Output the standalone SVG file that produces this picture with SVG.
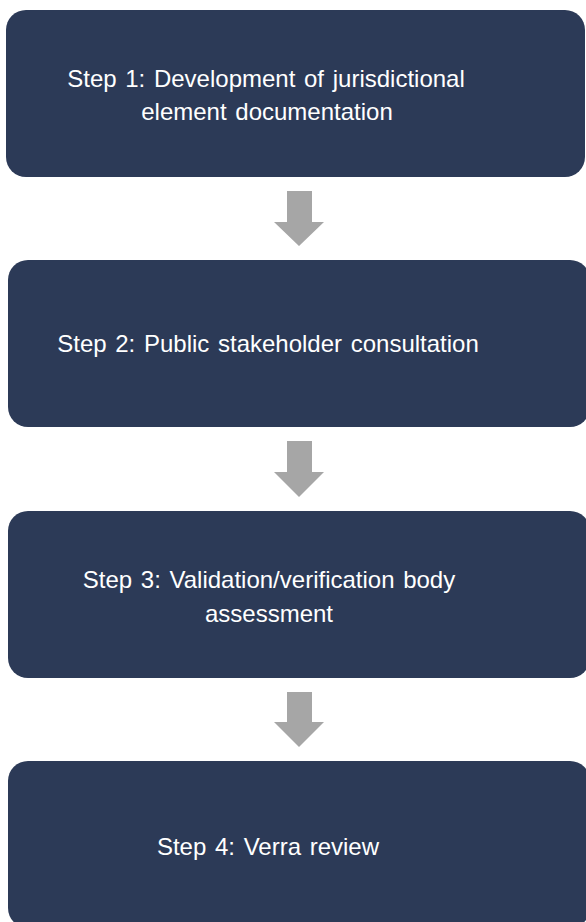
<svg xmlns="http://www.w3.org/2000/svg" width="586" height="922" viewBox="0 0 586 922">
  <style>
    .box { fill: #2C3A57; }
    .lbl { fill: #FFFFFF; font-family: "Liberation Sans", Arial, sans-serif; font-size: 24px; word-spacing: 2px; text-anchor: middle; }
    .arr { fill: #A6A6A6; }
  </style>
  <rect x="0" y="0" width="586" height="922" fill="#FFFFFF"/>
  <g id="connectors">
    <polygon class="arr" points="287,191 312,191 312,222 324,222 299,246 274,222 287,222"/>
    <polygon class="arr" points="287,441 312,441 312,472 324,472 299,497 274,472 287,472"/>
    <polygon class="arr" points="287,692 312,692 312,722 324,722 299,747 274,722 287,722"/>
  </g>
  <g id="step1">
    <rect class="box" x="6" y="10" width="579" height="167" rx="20" ry="20"/>
    <text class="lbl" x="266" y="87">Step 1: Development of jurisdictional</text>
    <text class="lbl" x="267" y="120">element documentation</text>
  </g>
  <g id="step2">
    <rect class="box" x="8" y="260" width="582" height="167" rx="20" ry="20"/>
    <text class="lbl" x="268" y="352">Step 2: Public stakeholder consultation</text>
  </g>
  <g id="step3">
    <rect class="box" x="8" y="511" width="582" height="167" rx="20" ry="20"/>
    <text class="lbl" x="269" y="588">Step 3: Validation/verification body</text>
    <text class="lbl" x="269" y="622">assessment</text>
  </g>
  <g id="step4">
    <rect class="box" x="8" y="761" width="582" height="167" rx="20" ry="20"/>
    <text class="lbl" x="268" y="855">Step 4: Verra review</text>
  </g>
</svg>
